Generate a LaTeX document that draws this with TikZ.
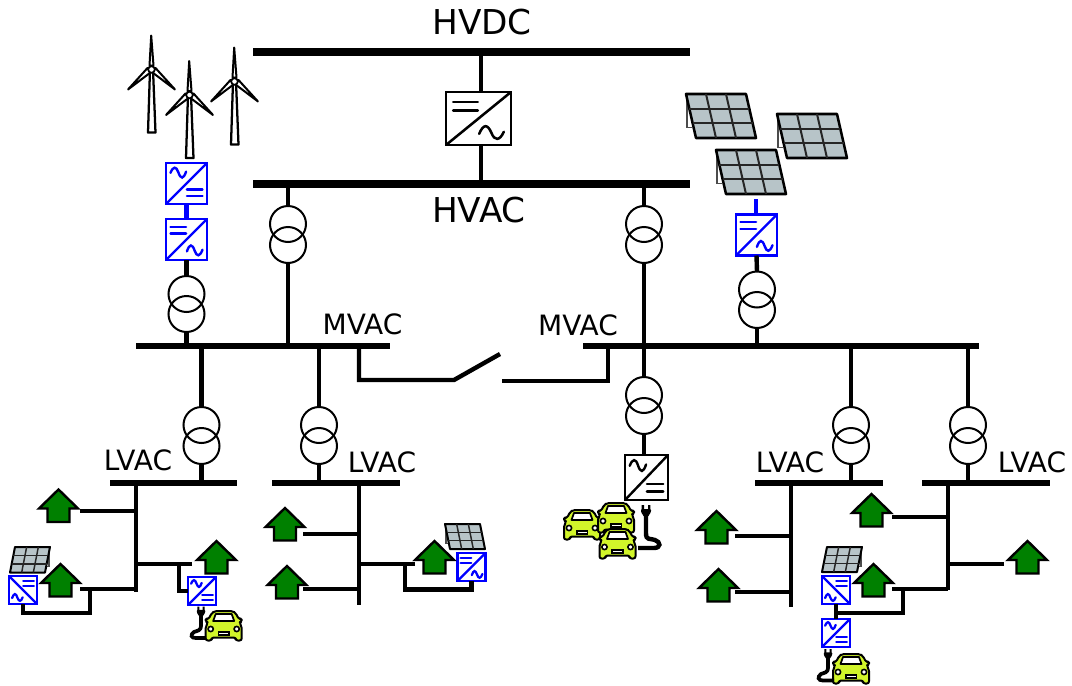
\documentclass[tikz,border=0pt]{standalone}
\usepackage{fontspec}
\setmainfont{DejaVu Sans}
\definecolor{housegreen}{HTML}{008000}
\definecolor{pvgrey}{HTML}{B7C4C8}
\definecolor{caryellow}{HTML}{D2F52A}
\tikzset{
  busbig/.style={fill=black,inner sep=0pt,outer sep=0pt,minimum height=7.5*0.75pt},
  busmid/.style={fill=black,inner sep=0pt,outer sep=0pt,minimum height=5.5*0.75pt},
  wire/.style={line width=3.3pt,line cap=butt,line join=miter},
  wirelv/.style={line width=3.1pt,line cap=butt,line join=miter},
  bluewire/.style={wire,draw=blue},
  xfmr/.style={circle,draw=black,line width=1.5pt,minimum size=36*0.75pt,inner sep=0pt,outer sep=0pt},
  convbox/.style={rectangle,draw,inner sep=0pt,outer sep=0pt},
  lbl/.style={inner sep=0pt,text=black},
  houseshape/.style={fill=housegreen,draw=black,line width=1.8pt,line join=miter},
  panelshape/.style={fill=pvgrey,draw=black,line join=round},
  carshape/.style={fill=caryellow,draw=black,line width=1.5pt,line join=round},
}
% name, x, y, w, h, colour, type, frame width (pt)
\newcommand{\convsym}[8]{%
  \node[convbox,draw=#6,line width=#8,minimum width=#4*0.75pt,minimum height=#5*0.75pt] (#1) at (#2,#3) {};
  \begin{scope}[shift={(#2,#3)},x=#4*0.375pt,y=-#5*0.375pt,draw=#6,line width=#8,line cap=round]
    \ifcase#7\relax
    \or
      \draw (-1,1) -- (1,-1);
      \draw (-.78,-.62) -- (-.02,-.62) (-.78,-.3) -- (-.02,-.3);
      \draw (.02,.58) .. controls (.15,.2) and (.28,.2) .. (.4,.55) .. controls (.5,.85) and (.65,.85) .. (.78,.5);
    \or
      \draw (-1,1) -- (1,-1);
      \draw (.02,.62) -- (.78,.62) (.02,.3) -- (.78,.3);
      \draw (-.78,-.52) .. controls (-.65,-.85) and (-.5,-.85) .. (-.4,-.55) .. controls (-.28,-.2) and (-.15,-.2) .. (-.02,-.58);
    \or
      \draw (-1,-1) -- (1,1);
      \draw (.02,-.62) -- (.78,-.62) (.02,-.3) -- (.78,-.3);
      \draw (-.78,.58) .. controls (-.65,.2) and (-.5,.2) .. (-.4,.55) .. controls (-.28,.85) and (-.15,.85) .. (-.02,.52);
    \fi
  \end{scope}%
}
\newcommand{\housesym}[2]{%
  \draw[houseshape] (#1,#2) -- ++(19.5,19) -- ++(-8.5,0) -- ++(0,13.5) -- ++(-22,0) -- ++(0,-13.5) -- ++(-8.5,0) -- cycle;
}
% x, y, w, h, skew, frame width, grid width
\newcommand{\pvsym}[7]{%
  \pgfmathsetmacro{\supx}{#5>0 ? #1+1 : #1+#3-1}
  \pgfmathsetmacro{\supd}{#5>0 ? 5 : -4}
  \draw[black!70,line width=0.9pt] (\supx,{#2+1}) -- (\supx,{#2+0.77*#4}) -- ({\supx+\supd},{#2+0.77*#4});
  \draw[panelshape,line width=#6] (#1,#2) -- ({#1+#3},#2) -- ({#1+#3+#5},{#2+#4}) -- ({#1+#5},{#2+#4}) -- cycle;
  \foreach \i in {1,2}{
    \draw[black!85,line width=#7] ({#1+\i*#3/3},#2) -- ({#1+\i*#3/3+#5},{#2+#4});
    \draw[black!85,line width=#7] ({#1+\i*#5/3},{#2+\i*#4/3}) -- ({#1+#3+\i*#5/3},{#2+\i*#4/3});
  }%
}
\newcommand{\windsym}[2]{%
  \begin{scope}[shift={(#1,#2)}]
    \draw[fill=white,line width=1.7pt,line join=round] (-1.5,0) -- (1.5,0) -- (4,63) -- (-3.5,63) -- cycle;
    \draw[fill=white,line width=1.5pt,line join=round] (-0.3,-34) -- (2,-4) -- (-2,-4) -- cycle;
    \draw[fill=white,line width=1.5pt,line join=round] (-23.5,20) -- (-4,-1.5) -- (-1,3) -- cycle;
    \draw[fill=white,line width=1.5pt,line join=round] (23.5,20) -- (4,-1.5) -- (1,3) -- cycle;
    \draw[fill=white,line width=1.3pt] (0,0) circle (3.3);
  \end{scope}%
}
\newcommand{\carsym}[2]{%
  \begin{scope}[shift={(#1,#2)}]
    \draw[carshape,rounded corners=1.6pt] (-9,-15) -- (9,-15) -- (12,-13) -- (15,-7) -- (18,-7.5) -- (18,-4.5) -- (15.5,-3.5) -- (18,0) -- (18,14.5) -- (12,14.5) -- (12,11.5) -- (-12,11.5) -- (-12,14.5) -- (-18,14.5) -- (-18,0) -- (-15.5,-3.5) -- (-18,-4.5) -- (-18,-7.5) -- (-15,-7) -- (-12,-13) -- cycle;
    \draw[fill=white,line width=1.3pt,line join=round] (-10.5,-5) -- (-8,-12) -- (8,-12) -- (10.5,-5) -- cycle;
    \draw[fill=white,line width=1.2pt] (-13,3) circle (2.6) (13,3) circle (2.6);
    \draw[fill=white,line width=1.2pt] (-5.3,6) rectangle (5.3,9.2);
  \end{scope}%
}
\newcommand{\plugsym}[3]{%
  \begin{scope}[shift={(#1,#2)},scale=#3]
    \fill[black] (-4.3,0) rectangle (-2,5) (2,0) rectangle (4.3,5);
    \fill[black,rounded corners=.8pt] (-5,4) -- (5,4) -- (5,7) -- (1.8,12) -- (-1.8,12) -- (-5,7) -- cycle;
  \end{scope}%
}
\begin{document}
\begin{tikzpicture}[x=0.75pt,y=-0.75pt]
\useasboundingbox (0,0) rectangle (1072,686);
% buses
\node[busbig,minimum width=437*0.75pt] (hvdc) at (471.5,52) {};
\node[busbig,minimum width=437*0.75pt] (hvac) at (471.5,184) {};
\node[busmid,minimum width=254*0.75pt] (mvl) at (263,346) {};
\node[busmid,minimum width=396*0.75pt] (mvr) at (781,346) {};
\node[busmid,minimum width=127*0.75pt] (lv1) at (173.5,483) {};
\node[busmid,minimum width=128*0.75pt] (lv2) at (336,483) {};
\node[busmid,minimum width=128*0.75pt] (lv3) at (819,483) {};
\node[busmid,minimum width=128*0.75pt] (lv4) at (986,483) {};
% labels
\node[lbl,font=\fontsize{25.7}{28}\selectfont] (thvdc) at (482,22) {HVDC};
\node[lbl,font=\fontsize{25.7}{28}\selectfont] (thvac) at (479,210) {HVAC};
\node[lbl,font=\fontsize{21}{24}\selectfont] (tm1) at (362.5,324) {MVAC};
\node[lbl,font=\fontsize{21}{24}\selectfont] (tm2) at (578,325) {MVAC};
\node[lbl,font=\fontsize{21}{24}\selectfont] (tl1) at (138,460) {LVAC};
\node[lbl,font=\fontsize{21}{24}\selectfont] (tl2) at (382,462) {LVAC};
\node[lbl,font=\fontsize{21}{24}\selectfont] (tl3) at (790,462) {LVAC};
\node[lbl,font=\fontsize{21}{24}\selectfont] (tl4) at (1032,462) {LVAC};
% transformers
\foreach \n/\x/\ya/\yb in {a/288/224/245,b/644/224/245,c/186.5/294/314,d/757/289.5/310,e/201.5/425/446,f/319/425/446,g/644/395/416,h/851/425/446,i/968/425/446}{
  \node[xfmr] (t\n1) at (\x,\ya) {};
  \node[xfmr] (t\n2) at (\x,\yb) {};
}
% converters
\convsym{chv}{478.5}{118.5}{65}{53}{black}{1}{1.9pt}
\convsym{cw1}{186.5}{183.5}{41}{41}{blue}{2}{1.8pt}
\convsym{cw2}{186.5}{239.5}{41}{41}{blue}{1}{1.8pt}
\convsym{cpv}{756.5}{235}{41}{41}{blue}{1}{1.8pt}
\convsym{cev}{646.5}{477.5}{43}{45}{black}{2}{1.8pt}
\convsym{cl1}{23}{590}{28}{28}{blue}{3}{1.7pt}
\convsym{cl2}{202}{591}{28}{28}{blue}{2}{1.7pt}
\convsym{cl3}{471.5}{567}{28}{28}{blue}{1}{1.7pt}
\convsym{cl4}{836}{590}{28}{28}{blue}{3}{1.7pt}
\convsym{cl5}{836}{633}{28}{28}{blue}{2}{1.7pt}
% HV connectors
\draw[wire] (chv.north -| hvdc.north) ++(9.5,0) coordinate (chvtop) -- (chvtop |- hvdc.south);
\draw[wire] (481,145) coordinate (chvbot) -- (chvbot |- hvac.north);
\draw[wire] (ta1.north) -- (ta1.north |- hvac.south);
\draw[wire] (ta2.south) -- (ta2.south |- mvl.north);
\draw[wire] (tb1.north) -- (tb1.north |- hvac.south);
\draw[wire] (tb2.south) -- (tb2.south |- mvr.north);
\draw[bluewire] (cw1.south) -- (cw2.north);
\draw[wire] (cw2.south) -- (tc1.north);
\draw[wire] (tc2.south) -- (tc2.south |- mvl.north);
\coordinate (pvfeed) at (756,199);
\draw[bluewire] (pvfeed) -- (pvfeed |- cpv.north);
\draw[wire] (cpv.south) -- (td1.north);
\draw[wire] (td2.south) -- (td2.south |- mvr.north);
\draw[wire] (te1.north) -- (te1.north |- mvl.south);
\draw[wire] (te2.south) -- (te2.south |- lv1.north);
\draw[wire] (tf1.north) -- (tf1.north |- mvl.south);
\draw[wire] (tf2.south) -- (tf2.south |- lv2.north);
\draw[wire] (tg1.north) -- (tg1.north |- mvr.south);
\draw[wire] (tg2.south) -- (tg2.south |- cev.north);
\draw[wire] (th1.north) -- (th1.north |- mvr.south);
\draw[wire] (th2.south) -- (th2.south |- lv3.north);
\draw[wire] (ti1.north) -- (ti1.north |- mvr.south);
\draw[wire] (ti2.south) -- (ti2.south |- lv4.north);
% switch
\coordinate (swa) at (359,346);
\coordinate (swb) at (454,380);
\coordinate (swc) at (500,354);
\coordinate (swd) at (502,381);
\coordinate (swe) at (608,346);
\draw[wire] (swa) -- (swa |- swb) -- (swb) -- (swc);
\draw[wire] (swd) -- (swe |- swd) -- (swe);
% LV feeders 1
\coordinate (a1) at (136,483); \coordinate (a2) at (136,592);
\draw[wirelv] (a1) -- (a2);
\coordinate (a3) at (80,511); \draw[wirelv] (a3) -- (a3 -| a1);
\coordinate (a4) at (192,564); \draw[wirelv] (a4) -- (a4 -| a1);
\coordinate (a5) at (179,564); \draw[wirelv] (a5) -- (a5 |- cl2.west) -- (cl2.west);
\coordinate (a6) at (80,589); \draw[wirelv] (a6) -- (a6 -| a1);
\coordinate (a7) at (90,589); \coordinate (a8) at (90,613);
\draw[wirelv] (a7) -- (a8) -- (a8 -| cl1.south) -- (cl1.south);
% LV feeders 2
\coordinate (b1) at (359,483); \coordinate (b2) at (359,605);
\draw[wirelv] (b1) -- (b2);
\coordinate (b3) at (303,534); \draw[wirelv] (b3) -- (b3 -| b1);
\coordinate (b4) at (303,589); \draw[wirelv] (b4) -- (b4 -| b1);
\coordinate (b5) at (415,564); \draw[wirelv] (b5) -- (b5 -| b1);
\coordinate (b6) at (405,564); \coordinate (b7) at (405,589.5);
\draw[wirelv] (b6) -- (b7) -- (b7 -| cl3.south) -- (cl3.south);
% LV feeders 3
\coordinate (c1) at (791,483); \coordinate (c2) at (791,607);
\draw[wirelv] (c1) -- (c2);
\coordinate (c3) at (735,536); \draw[wirelv] (c3) -- (c3 -| c1);
\coordinate (c4) at (735,592); \draw[wirelv] (c4) -- (c4 -| c1);
% LV feeders 4
\coordinate (d1) at (948,483); \coordinate (d2) at (948,590);
\draw[wirelv] (d1) -- (d2);
\coordinate (d3) at (892,517); \draw[wirelv] (d3) -- (d3 -| d1);
\coordinate (d4) at (1004,564); \draw[wirelv] (d4) -- (d4 -| d1);
\coordinate (d5) at (892,589); \draw[wirelv] (d5) -- (d5 -| d1);
\coordinate (d6) at (903,589); \coordinate (d7) at (903,613);
\draw[wirelv] (d6) -- (d7) -- (d7 -| cl4.south);
\draw[wirelv] (cl4.south) -- (cl5.north);
% houses
\housesym{58.5}{489.5}
\housesym{60.5}{564}
\housesym{216.5}{541}
\housesym{285}{508}
\housesym{287}{566}
\housesym{434.5}{541}
\housesym{716.5}{511}
\housesym{718.5}{569}
\housesym{871.5}{494}
\housesym{873.5}{564}
\housesym{1027.5}{541}
% PV
\pvsym{686}{94}{60}{44}{10}{1.9pt}{1.5pt}
\pvsym{777}{114}{60}{44}{10}{1.9pt}{1.5pt}
\pvsym{716}{150}{60}{44}{10}{1.9pt}{1.5pt}
\pvsym{15}{547}{35}{25.5}{-5}{1.5pt}{1.1pt}
\pvsym{445}{524}{35}{25}{5}{1.5pt}{1.1pt}
\pvsym{827}{547}{35}{25}{-5}{1.5pt}{1.1pt}
% wind
\windsym{151.5}{69.5}
\windsym{234.5}{81.5}
\windsym{189.5}{95}
% cars
\carsym{223.7}{626}
\carsym{582}{525}
\carsym{616}{518}
\carsym{617.5}{544}
\carsym{851}{669}
% plugs and cables
\plugsym{201}{606.5}{0.85}
\coordinate (e1) at (201,616); \coordinate (e2) at (206,638);
\draw[line width=2.8pt] (e1) -- (201,625) .. controls (201,632) and (197,630) .. (194,632) .. controls (190,635) and (191,638) .. (196,638) -- (e2);
\plugsym{646}{505}{1}
\coordinate (e3) at (646,515); \coordinate (e4) at (638,548);
\draw[line width=3.3pt] (e3) -- (646,533) .. controls (646,541) and (650,538) .. (655,540) .. controls (661,542) and (661,548) .. (654,548) -- (e4);
\plugsym{828}{649}{0.85}
\coordinate (e5) at (828,658); \coordinate (e6) at (834,680.5);
\draw[line width=2.8pt] (e5) -- (828,667) .. controls (828,674) and (824,672) .. (821,674) .. controls (817,677) and (818,680.5) .. (823,680.5) -- (e6);
\end{tikzpicture}
\end{document}
